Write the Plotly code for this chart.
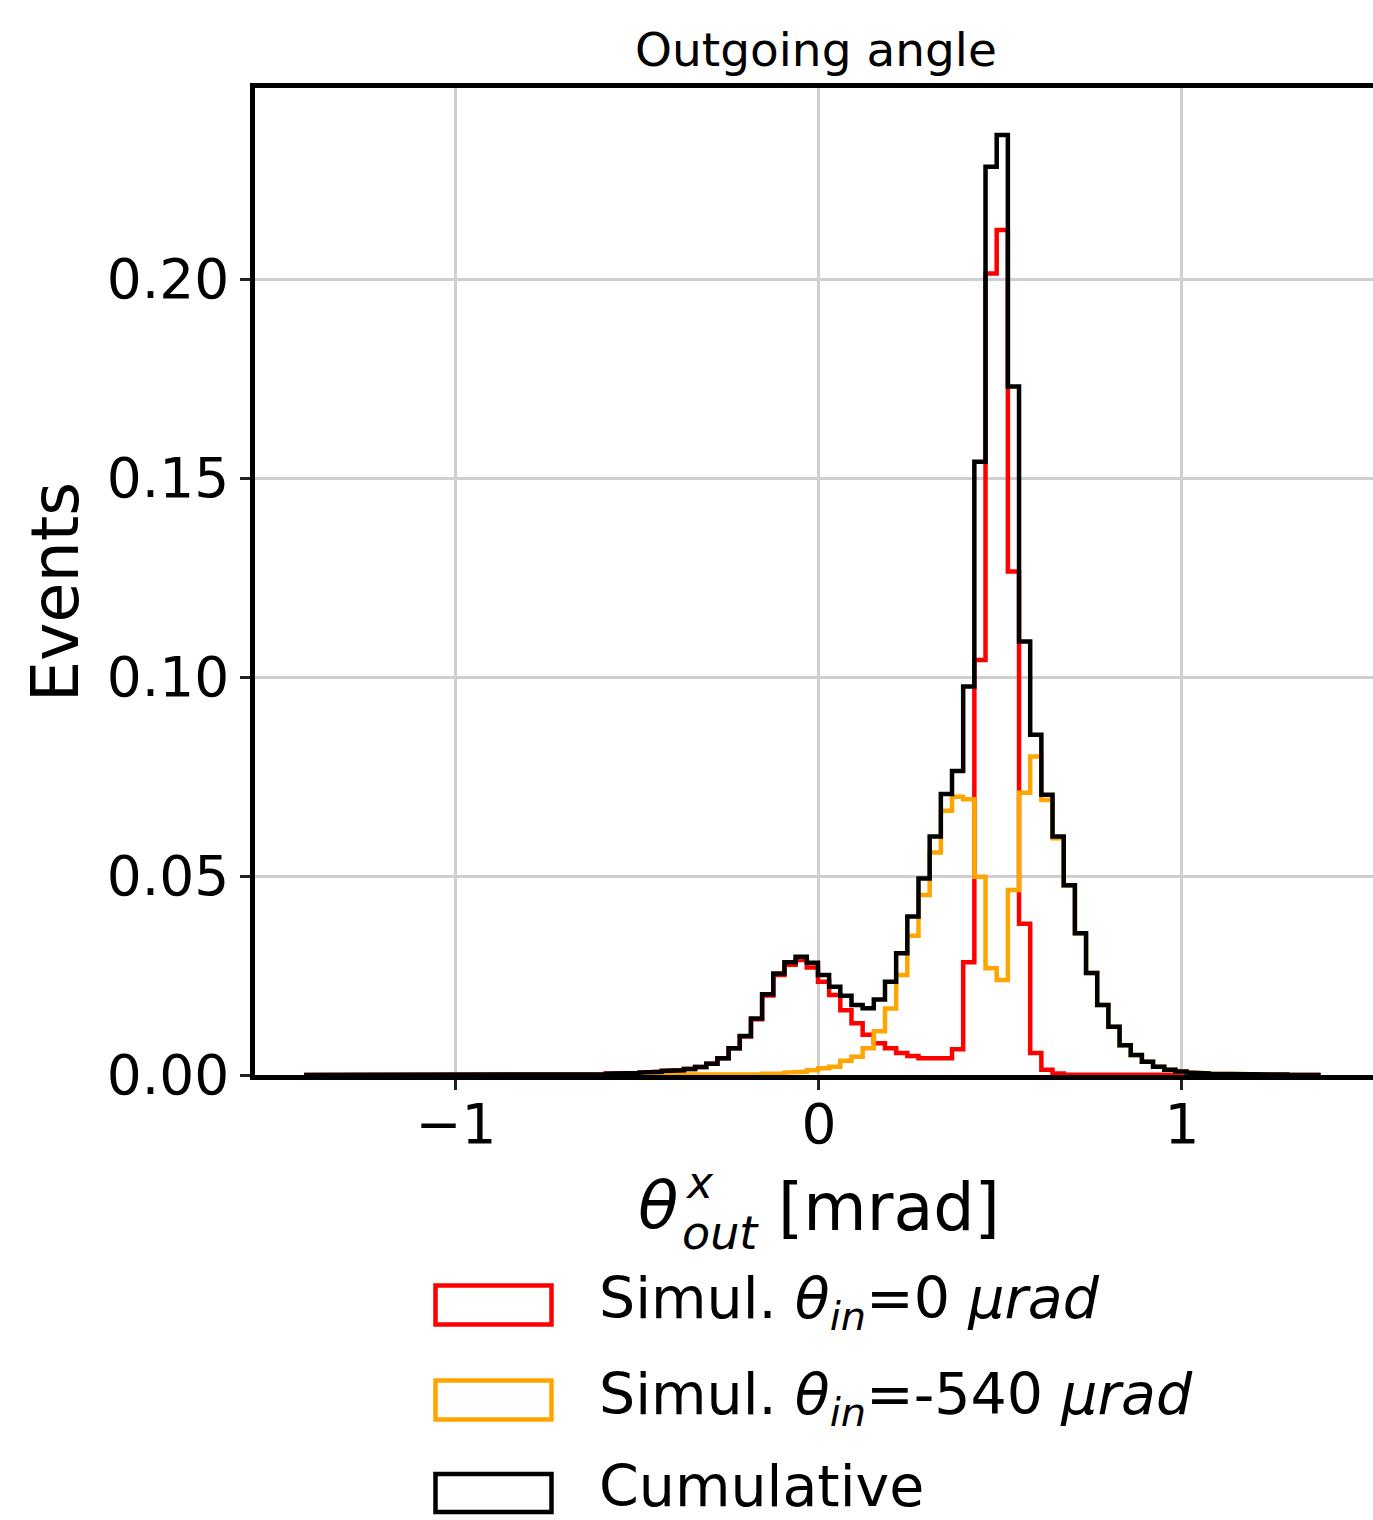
import numpy as np
import plotly.graph_objects as go

# ---------------- data ----------------
# common histogram binning: 91 bins between these edges [mrad]
bin_lo, bin_hi, n_bins = -1.4183, 1.3819, 91

# bins k = -52 ... 38 (k = 0 starts at 0.182 mrad)
red_vals = (
    [0.0] * 20 +                                   # k -52..-33
    [0.0001, 0.0001, 0.0001, 0.0001,               # k -32..-29
     0.0002, 0.0002, 0.0002,                       # k -28..-26
     0.0003, 0.0004, 0.0005, 0.0006, 0.0008,       # k -25..-21
     0.0010, 0.0012, 0.0015, 0.0020, 0.0028,       # k -20..-16
     0.0042, 0.0067, 0.0097, 0.0140, 0.0200,       # k -15..-11
     0.0251, 0.0277, 0.0289, 0.0270, 0.0234,       # k -10..-6
     0.0201, 0.0163, 0.0130, 0.0101, 0.0080,       # k -5..-1
     0.0067, 0.0055, 0.0048, 0.0042, 0.0040,       # k 0..4
     0.0042, 0.0065, 0.0283, 0.1043, 0.2014,       # k 5..9
     0.2123, 0.1265, 0.0380, 0.0055, 0.0013,       # k 10..14
     0.0004, 0.0001] +                             # k 15..16
    [0.0] * 22                                     # k 17..38
)

orange_vals = (
    [0.0] * 39 +                                   # k -52..-14
    [0.0001, 0.0002,                               # k -13..-12
     0.0003, 0.0004, 0.0006, 0.0008, 0.0012,       # k -11..-7
     0.0017, 0.0021, 0.0036, 0.0046, 0.0067,       # k -6..-2
     0.0110, 0.0167, 0.0251, 0.0350, 0.0452,       # k -1..3
     0.0559, 0.0664, 0.0699, 0.0693, 0.0498,       # k 4..8
     0.0268, 0.0239, 0.0465, 0.0709, 0.0800,       # k 9..13
     0.0691, 0.0595, 0.0476, 0.0356, 0.0256,       # k 14..18
     0.0176, 0.0121, 0.0075, 0.0050, 0.0033,       # k 19..23
     0.0021, 0.0013, 0.0009, 0.0006, 0.0004,       # k 24..28
     0.0003, 0.0002, 0.0003, 0.0003, 0.0001,       # k 29..33
     0.0001, 0.0001, 0.0, 0.0, 0.0]                # k 34..38
)

cumulative_vals = (
    [0.0] * 20 +                                   # k -52..-33
    [0.0001, 0.0001, 0.0001, 0.0001,               # k -32..-29
     0.0002, 0.0002, 0.0002,                       # k -28..-26
     0.0003, 0.0004, 0.0005, 0.0006, 0.0008,       # k -25..-21
     0.0010, 0.0012, 0.0015, 0.0020, 0.0028,       # k -20..-16
     0.0042, 0.0067, 0.0098, 0.0142, 0.0203,       # k -15..-11
     0.0255, 0.0283, 0.0297, 0.0282, 0.0251,       # k -10..-6
     0.0222, 0.0199, 0.0176, 0.0168, 0.0190,       # k -5..-1
     0.0234, 0.0306, 0.0398, 0.0494, 0.0599,       # k 0..4
     0.0706, 0.0764, 0.0976, 0.1541, 0.2282,       # k 5..9
     0.2362, 0.1730, 0.1089, 0.0855, 0.0704,       # k 10..14
     0.0599, 0.0477, 0.0356, 0.0256, 0.0176,       # k 15..19
     0.0121, 0.0075, 0.0050, 0.0033, 0.0021,       # k 20..24
     0.0013, 0.0009, 0.0006, 0.0004, 0.0003,       # k 25..29
     0.0002, 0.0003, 0.0003, 0.0001, 0.0001,       # k 30..34
     0.0001, 0.0, 0.0, 0.0]                        # k 35..38
)

series_names = ["Simul. θin=0 μrad", "Simul. θin=-540 μrad", "Cumulative"]
series_colors = ["#ff0000", "#ffa500", "#000000"]

x_tick_vals = [-1, 0, 1]
x_tick_text = ["\u22121", "0", "1"]
y_tick_vals = [0.0, 0.05, 0.10, 0.15, 0.20]

# ---------------- figure ----------------
W, H = 1373, 1520
L, R, T, B = 255, 0, 88, 445
PW, PH = W - L - R, H - T - B

def px(xp):
    return (xp - L) / PW

def py(yp):
    return (H - B - yp) / PH

edges = np.linspace(bin_lo, bin_hi, n_bins + 1)

def step_xy(vals):
    xs = np.repeat(edges, 2)
    ys = np.concatenate([[0.0], np.repeat(np.asarray(vals, float), 2), [0.0]])
    return xs, ys

fig = go.Figure()
for vals, name, col in zip([red_vals, orange_vals, cumulative_vals], series_names, series_colors):
    xs, ys = step_xy(vals)
    fig.add_trace(go.Scatter(x=xs, y=ys, mode="lines", name=name,
                             line=dict(color=col, width=4.5), showlegend=False,
                             hoverinfo="skip"))

FONT = "DejaVu Sans"
fig.update_layout(
    width=W, height=H, autosize=False,
    margin=dict(l=L, r=R, t=T, b=B, pad=0),
    paper_bgcolor="white", plot_bgcolor="white",
    font=dict(family=FONT, color="black"),
    xaxis=dict(range=[-1.5537, 1.5262], tickvals=x_tick_vals, ticktext=x_tick_text,
               showgrid=True, gridcolor="#cfcfcf", gridwidth=2.5,
               zeroline=False, showline=True, linecolor="black", linewidth=4.5,
               mirror=True, ticks="outside", ticklen=10, tickwidth=2.5,
               tickcolor="#222222", tickfont=dict(size=55, family=FONT),
               ticklabelstandoff=-13),
    yaxis=dict(range=[0, 0.248], tickvals=y_tick_vals, tickformat=".2f",
               showgrid=True, gridcolor="#cfcfcf", gridwidth=2.5,
               zeroline=False, showline=True, linecolor="black", linewidth=4.5,
               mirror=False, ticks="outside", ticklen=10, tickwidth=2.5,
               tickcolor="#222222", tickfont=dict(size=55, family=FONT)),
)

ann = []
# title
ann.append(dict(x=px(816), y=py(50), text="Outgoing angle", font=dict(size=47)))
# y label
ann.append(dict(x=px(55), y=py(592), text="Events", textangle=-90, font=dict(size=65)))
# x label pieces (theta with stacked super/subscript)
ann.append(dict(x=px(680), y=py(1205), text="<i>θ</i>", xanchor="right", font=dict(size=66)))
ann.append(dict(x=px(684), y=py(1209), text="<i>x</i>", xanchor="left", yanchor="bottom",
                borderpad=0, font=dict(size=44)))
ann.append(dict(x=px(681), y=py(1205), text="<i>out</i>", xanchor="left", yanchor="top",
                borderpad=0, font=dict(size=46)))
ann.append(dict(x=px(776), y=py(1207), text="[mrad]", xanchor="left", font=dict(size=65)))

# legend (manual, matplotlib-like outlined patches)
legend_texts = [
    "Simul. <i>θ</i><sub><i>in</i></sub>=0 <i>μrad</i>",
    "Simul. <i>θ</i><sub><i>in</i></sub>=-540 <i>μrad</i>",
    "Cumulative",
]
legend_rows = [(1285.5, 1324.5, 1302, "middle"), (1380.5, 1419.5, 1398, "middle"),
               (1474, 1512, 1520, "bottom")]
shapes = []
for (y0, y1, yc, yanc), txt, col in zip(legend_rows, legend_texts, series_colors):
    shapes.append(dict(type="rect", xref="paper", yref="paper",
                       x0=px(435.5), x1=px(551.5), y0=py(y1), y1=py(y0),
                       line=dict(color=col, width=4.5), fillcolor="rgba(0,0,0,0)"))
    ann.append(dict(x=px(598), y=py(yc), text=txt, xanchor="left", yanchor=yanc,
                    borderpad=0, font=dict(size=57)))

for a in ann:
    a.setdefault("xanchor", "center")
    a.setdefault("yanchor", "middle")
    a.update(xref="paper", yref="paper", showarrow=False)
    a["font"] = dict(family=FONT, color="black", **a["font"])

fig.update_layout(annotations=ann, shapes=shapes)
fig.write_html("out.html")
